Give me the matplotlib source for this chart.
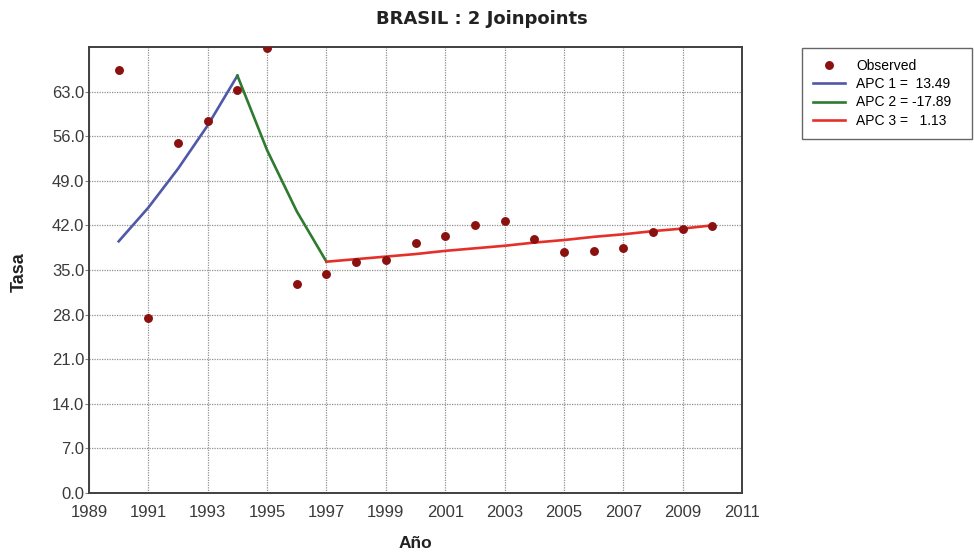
import matplotlib
matplotlib.use("Agg")
import matplotlib.pyplot as plt

# observed rates
years = list(range(1990, 2011))
observed = [66.4, 27.5, 54.9, 58.4, 63.3, 69.8, 32.8, 34.4, 36.2, 36.5, 39.2,
            40.4, 42.0, 42.7, 39.9, 37.9, 38.0, 38.5, 40.9, 41.4, 41.9]

# fitted joinpoint segments
seg1_years = [1990, 1991, 1992, 1993, 1994]
seg1_fit = [39.5, 44.8, 50.9, 57.7, 65.5]
seg2_years = [1994, 1995, 1996, 1997]
seg2_fit = [65.5, 53.8, 44.2, 36.3]
seg3_years = list(range(1997, 2011))
seg3_fit = [36.3, 36.7, 37.1, 37.5, 38.0, 38.4, 38.8, 39.3, 39.7, 40.2,
            40.6, 41.1, 41.5, 42.0]

apc_labels = ["APC 1 =  13.49", "APC 2 = -17.89", "APC 3 =   1.13"]
x_ticks = list(range(1989, 2012, 2))
y_ticks = [0, 7, 14, 21, 28, 35, 42, 49, 56, 63]

plt.rcParams["font.family"] = ["Liberation Sans", "DejaVu Sans"]

fig = plt.figure(figsize=(9.74, 5.52), dpi=100)
ax = fig.add_axes([0.0914, 0.1069, 0.6704, 0.808])

ax.plot(years, observed, "o", color="#8b1010", markersize=5.4, label="Observed", zorder=4)
ax.plot(seg1_years, seg1_fit, color="#5058a8", lw=1.9, label=apc_labels[0], zorder=3)
ax.plot(seg2_years, seg2_fit, color="#2e7a2e", lw=1.9, label=apc_labels[1], zorder=3)
ax.plot(seg3_years, seg3_fit, color="#e5302a", lw=1.9, label=apc_labels[2], zorder=3)

ax.set_xlim(1989, 2011)
ax.set_ylim(0, 70)
ax.set_xticks(x_ticks)
ax.set_yticks(y_ticks)
ax.set_yticklabels([f"{v:.1f}" for v in y_ticks])
ax.grid(True, color="#909090", ls=(0, (1, 1)), lw=0.9)
ax.tick_params(axis="x", length=0, pad=9, labelsize=12, labelcolor="#3a3a3a")
ax.tick_params(axis="y", length=3, width=0.8, color="#808080", pad=0.5,
               labelsize=12, labelcolor="#3a3a3a")
for sp in ax.spines.values():
    sp.set_color("#404040")
    sp.set_linewidth(1.4)

fig.text(415 / 974, 1 - 543 / 552, "Año", ha="center", va="center",
         fontsize=12.5, fontweight="bold", color="#222222")
fig.text(19.5 / 974, 1 - 272 / 552, "Tasa", ha="center", va="center", rotation=90,
         fontsize=13, fontweight="bold", color="#222222")
fig.text(0.495, 0.966, "BRASIL : 2 Joinpoints", ha="center", va="center",
         fontsize=13, fontweight="bold", family="DejaVu Sans", color="#222222")

leg = fig.legend(loc="upper left", bbox_to_anchor=(802 / 974, 1 - 48 / 552, 170 / 974, 0.0),
                 mode="expand", fontsize=10, frameon=True, fancybox=False,
                 borderpad=0.8, labelspacing=0.3, handlelength=2.3,
                 handletextpad=0.8, borderaxespad=0)
leg.get_frame().set_edgecolor("#404040")
leg.get_frame().set_linewidth(1.0)

fig.savefig("out.png", dpi=100)
